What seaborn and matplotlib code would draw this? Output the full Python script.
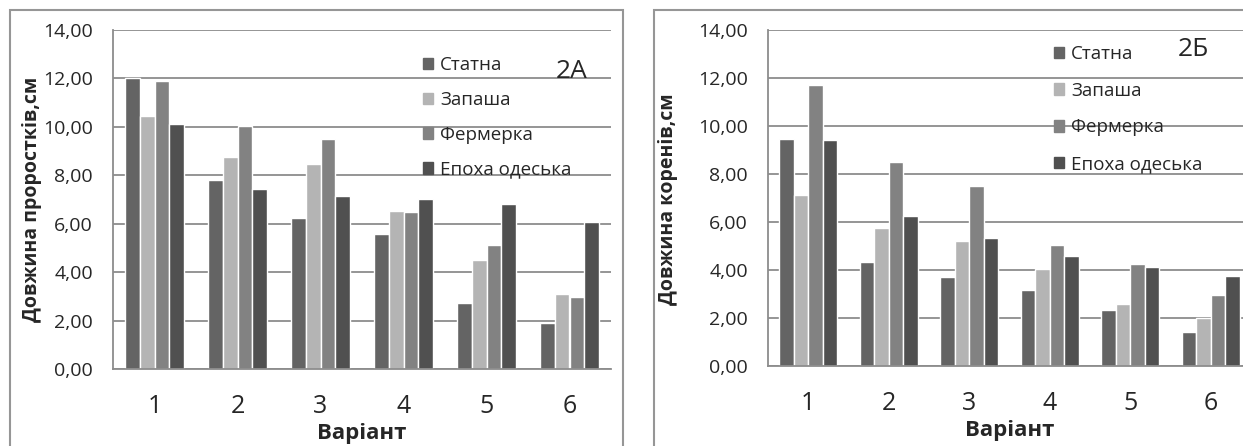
import numpy as np
import pandas as pd
import matplotlib
matplotlib.use("Agg")
import matplotlib.pyplot as plt
from matplotlib.patches import Rectangle
from matplotlib.ticker import FixedLocator
import seaborn as sns

variants = ["1", "2", "3", "4", "5", "6"]
sorts = ["Статна", "Запаша", "Фермерка", "Епоха одеська"]

# 2A - довжина проростків, см
sprouts_statna = [12.00, 7.81, 6.25, 5.59, 2.74, 1.91]
sprouts_zapasha = [10.43, 8.75, 8.46, 6.54, 4.49, 3.11]
sprouts_fermerka = [11.88, 10.04, 9.48, 6.47, 5.12, 2.96]
sprouts_epokha = [10.11, 7.44, 7.16, 7.02, 6.80, 6.07]

# 2Б - довжина коренів, см
roots_statna = [9.47, 4.33, 3.72, 3.17, 2.32, 1.43]
roots_zapasha = [7.13, 5.74, 5.22, 4.05, 2.57, 1.99]
roots_fermerka = [11.71, 8.49, 7.50, 5.03, 4.25, 2.97]
roots_epokha = [9.42, 6.25, 5.32, 4.58, 4.11, 3.74]

colors = ["#646464", "#b4b4b4", "#828282", "#505050"]
grid_c = "#8c8c8c"

sns.set_style("white")
plt.rcParams["font.family"] = ["Open Sans", "DejaVu Sans"]

W, H = 1243, 446
fig = plt.figure(figsize=(W / 100, H / 100), dpi=100)


def long_df(series):
    rows = []
    for name, vals in zip(sorts, series):
        for v, val in zip(variants, vals):
            rows.append({"Варіант": v, "sort": name, "value": val})
    return pd.DataFrame(rows)


def px_axes(x0, x1, y_top, y_bot):
    return fig.add_axes([x0 / W, (H - y_bot) / H, (x1 - x0) / W, (y_bot - y_top) / H])


def draw(ax, df, tag, tag_xy, leg_xy, spacing):
    sns.barplot(data=df, x="Варіант", y="value", hue="sort", palette=colors,
                width=0.72, saturation=1, ax=ax, legend=False)
    ax.set_ylim(0, 14)
    ax.set_xlim(-0.5, 5.5)
    ax.set_yticks(np.arange(0, 14.1, 2))
    ax.set_yticklabels([f"{v:.2f}".replace(".", ",") for v in np.arange(0, 14.1, 2)],
                       fontsize=14)
    ax.yaxis.grid(True, color=grid_c, lw=1.3)
    ax.set_axisbelow(True)
    for s in ["top", "right"]:
        ax.spines[s].set_visible(False)
    for s in ["left", "bottom"]:
        ax.spines[s].set_color(grid_c)
        ax.spines[s].set_linewidth(1.3)
    ax.tick_params(axis="y", direction="out", length=4.5, width=1.3, color=grid_c, pad=10)
    ax.tick_params(axis="x", which="major", length=0, labelsize=18, pad=18)
    ax.xaxis.set_minor_locator(FixedLocator(np.arange(-0.5, 6, 1)))
    ax.tick_params(axis="x", which="minor", direction="out", length=4.5, width=1.3, color=grid_c)
    ax.set_xlabel("Варіант", fontsize=16, fontweight="bold", labelpad=3)
    ax.set_ylabel("")
    ax.text(tag_xy[0] / W, (H - tag_xy[1]) / H, tag, transform=fig.transFigure,
            fontsize=19, ha="center", va="center")
    handles = [Rectangle((0, 0), 1, 1, color=c) for c in colors]
    fig.legend(handles, sorts, loc="upper left",
               bbox_to_anchor=(leg_xy[0] / W, (H - leg_xy[1]) / H),
               frameon=False, fontsize=13.5, borderpad=0, borderaxespad=0,
               handlelength=0.55, handleheight=0.55, handletextpad=0.35,
               labelspacing=spacing)


# frames round the two charts
fig.patches.append(Rectangle((10 / W, -0.1), 613 / W, (H - 10) / H + 0.1,
                             transform=fig.transFigure, fill=False,
                             ec="#969696", lw=1.5))
fig.patches.append(Rectangle((654 / W, -0.1), 700 / W, (H - 10) / H + 0.1,
                             transform=fig.transFigure, fill=False,
                             ec="#969696", lw=1.5))

ax1 = px_axes(113, 611, 30, 369)
draw(ax1, long_df([sprouts_statna, sprouts_zapasha, sprouts_fermerka, sprouts_epokha]),
     "2A", (572, 72), (423, 56), 0.9)
fig.text(32 / W, (H - 199) / H, "Довжина проростків,см", rotation=90,
         ha="center", va="center", fontsize=14, fontweight="bold")

ax2 = px_axes(768, 1251, 30, 366)
draw(ax2, long_df([roots_statna, roots_zapasha, roots_fermerka, roots_epokha]),
     "2Б", (1193, 50), (1054, 45), 1.0)
fig.text(668 / W, (H - 199) / H, "Довжина коренів,см", rotation=90,
         ha="center", va="center", fontsize=14, fontweight="bold")

fig.savefig("out.png", dpi=100)
